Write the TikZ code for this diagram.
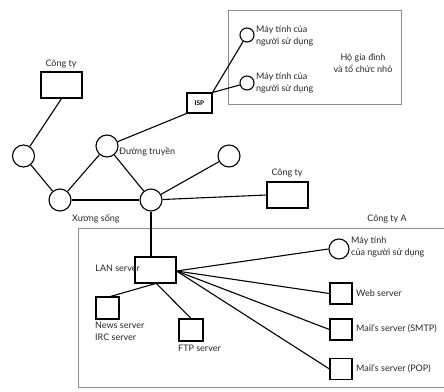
\documentclass[tikz,border=0pt]{standalone}
\usepackage{fontspec}
\setmainfont{Lato}
\begin{document}
\begin{tikzpicture}[x=1pt,y=-1pt,
  lbl/.style={font=\fontsize{9}{12}\selectfont, inner sep=0pt, text=black!85},
  hub/.style={circle, draw, line width=1.1pt, minimum size=22pt, inner sep=0pt},
  usr/.style={circle, draw, line width=1.1pt, minimum size=14pt, inner sep=0pt},
  bx/.style={rectangle, draw, line width=1.1pt, inner sep=0pt},
  link/.style={line width=1.1pt},
  area/.style={draw=black!45, line width=0.8pt}]
\useasboundingbox (0,0) rectangle (444,391);
% household area
\draw[area] (228,10) rectangle (401,104);
\node[lbl, align=center] (hh) at (363,63) {Hộ gia đình\\và tổ chức nhỏ};
\node[usr] (u1) at (247,35) {};
\node[usr] (u2) at (247,83) {};
\node[lbl, anchor=west, align=left] (u1t) at (256,36) {Máy tính của\\người sử dụng};
\node[lbl, anchor=west, align=left] (u2t) at (256,83) {Máy tính của\\người sử dụng};
\node[bx, minimum width=25pt, minimum height=20pt, font=\fontsize{6.5}{7}\selectfont\bfseries] (isp) at (199.5,103) {ISP};
\draw[link] (isp.north east) -- (u1);
\draw[link] (isp.north east) -- (u2);
% backbone
\node[bx, minimum width=41pt, minimum height=26pt] (c1) at (61.5,85) {};
\node[lbl] (c1t) at (61,64) {Công ty};
\node[hub] (A) at (23.5,156) {};
\node[hub] (B) at (107,146) {};
\node[hub] (C) at (60,200) {};
\node[hub] (D) at (151,200) {};
\node[hub] (E) at (229,156) {};
\node[lbl, anchor=west] (bt) at (119,152) {Đường truyền};
\node[lbl, anchor=west] (ct) at (72,219) {Xương sống};
\node[bx, minimum width=41pt, minimum height=26pt] (c2) at (287.5,195) {};
\node[lbl] (c2t) at (287,173) {Công ty};
\draw[link] (c1.south) -- (A);
\draw[link] (A) -- (C);
\draw[link] (C) -- (B);
\draw[link] (B) -- (D);
\draw[link] (C) -- (D);
\draw[link] (D) -- (E);
\draw[link] (B) -- (isp.south west);
\draw[link] (D) -- (c2.west);
% company A
\draw[area] (444,228) -- (78,228) -- (78,387) -- (444,387);
\node[lbl] (cat) at (387,219) {Công ty A};
\node[bx, minimum width=41pt, minimum height=26pt] (lan) at (155.5,270) {};
\node[lbl, anchor=east] (lant) at (140,268) {LAN server};
\draw[link] (D) -- (D |- lan.north);
\node[bx, minimum width=23pt, minimum height=22pt] (news) at (107.5,308) {};
\node[lbl, anchor=north west, align=left] (newst) at (95,322) {News server\\IRC server};
\node[bx, minimum width=24pt, minimum height=22pt] (ftp) at (191,330) {};
\node[lbl, anchor=north west] (ftpt) at (178,345) {FTP server};
\draw[link] ([xshift=0pt]lan.south) -- ([xshift=3pt]news.north);
\draw[link] ([xshift=1pt]lan.south) -- (ftp.north);
\node[usr, minimum size=20pt] (uc) at (339,249) {};
\node[lbl, anchor=west, align=left] (uct) at (351,247) {Máy tính\\của người sử dụng};
\node[bx, minimum width=22pt, minimum height=21pt] (web) at (341,293.5) {};
\node[lbl, anchor=west] (webt) at (356,293) {Web server};
\node[bx, minimum width=22pt, minimum height=21pt] (smtp) at (341,329.5) {};
\node[lbl, anchor=west] (smtpt) at (356,329) {Mail's server (SMTP)};
\node[bx, minimum width=22pt, minimum height=21pt] (pop) at (341,369) {};
\node[lbl, anchor=west] (popt) at (356,369) {Mail's server (POP)};
\coordinate (lr) at ([yshift=-1pt]lan.east);
\draw[link] (lr) -- (uc.west);
\draw[link] (lr) -- (web.west);
\draw[link] (lr) -- (smtp.west);
\draw[link] (lr) -- (pop.west);
\end{tikzpicture}
\end{document}
